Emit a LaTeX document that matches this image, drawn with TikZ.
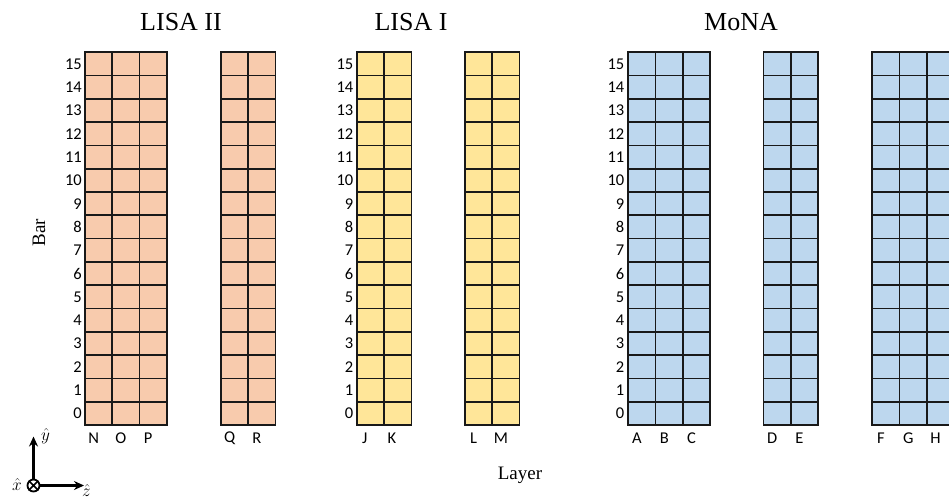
\documentclass[tikz,border=0pt]{standalone}
\usepackage{fontspec}
\setmainfont{Liberation Serif}
\newfontfamily\calib{Carlito}
\usetikzlibrary{arrows.meta}
\definecolor{lisatwo}{RGB}{248,203,173}
\definecolor{lisaone}{RGB}{255,230,153}
\definecolor{mona}{RGB}{189,215,238}
\tikzset{
  cellline/.style={line width=1.7pt, draw=black!90},
  rowlab/.style={font=\calib\fontsize{16.5}{16.5}\selectfont, anchor=east, inner sep=0pt},
  collab/.style={font=\calib\fontsize{16.5}{16.5}\selectfont, anchor=center, inner sep=0pt},
  titlelab/.style={font=\fontsize{26}{26}\selectfont, anchor=center, inner sep=0pt},
  axlab/.style={font=\fontsize{19}{19}\selectfont, anchor=center, inner sep=0pt},
  axarrow/.style={line width=3.2pt, -{Stealth[length=10pt,width=9pt]}},
}
% #1 = left x, #2 = number of columns, #3 = fill colour, #4 = name
\newcommand\detblock[4]{%
  \fill[#3] (#1,52.2) rectangle ({#1+#2*27.3},425) coordinate (#4-se);
  \coordinate (#4-nw) at (#1,52.2);
  \foreach \r in {1,...,15} {\draw[cellline] (#1,{52.2+\r*23.3}) -- ({#1+#2*27.3},{52.2+\r*23.3});}
  \foreach \c in {1,...,#2} {\draw[cellline] ({#1+\c*27.3},52.2) -- ({#1+\c*27.3},425);}
  \draw[cellline] (#4-nw) rectangle (#4-se);
}
\newcommand\rowlabels[2]{% #1 = right x, #2 = name
  \foreach \r in {0,...,15} {\node[rowlab] (#2-\r) at (#1,{425-(\r+0.5)*23.3}) {\r};}
}
\begin{document}
\begin{tikzpicture}[x=1pt,y=-1pt]
\useasboundingbox (0,0) rectangle (949,499);
\clip (0,0) rectangle (949,499);

% titles
\node[titlelab] (tlisa2) at (181,22.5) {LISA II};
\node[titlelab] (tlisa1) at (411,22.5) {LISA I};
\node[titlelab] (tmona) at (741,22.5) {MoNA};

% blocks
\detblock{85}{3}{lisatwo}{NOP}
\detblock{221}{2}{lisatwo}{QR}
\detblock{357}{2}{lisaone}{JK}
\detblock{465}{2}{lisaone}{LM}
\detblock{628.3}{3}{mona}{ABC}
\detblock{763.5}{2}{mona}{DE}
\detblock{872.3}{3}{mona}{FGH}

% row numbers
\rowlabels{82}{rowa}
\rowlabels{353.5}{rowb}
\rowlabels{624.5}{rowc}

% column letters
\foreach \l [count=\i from 0] in {N,O,P} {\node[collab] (col-\l) at ({85+(\i+0.5)*27.3-5},438) {\l};}
\foreach \l [count=\i from 0] in {Q,R} {\node[collab] (col-\l) at ({221+(\i+0.5)*27.3-5},438) {\l};}
\foreach \l [count=\i from 0] in {J,K} {\node[collab] (col-\l) at ({357+(\i+0.5)*27.3-6},438) {\l};}
\foreach \l [count=\i from 0] in {L,M} {\node[collab] (col-\l) at ({465+(\i+0.5)*27.3-5},438) {\l};}
\foreach \l [count=\i from 0] in {A,B,C} {\node[collab] (col-\l) at ({628.3+(\i+0.5)*27.3-5},438) {\l};}
\foreach \l [count=\i from 0] in {D,E} {\node[collab] (col-\l) at ({763.5+(\i+0.5)*27.3-5},438) {\l};}
\foreach \l [count=\i from 0] in {F,G,H} {\node[collab] (col-\l) at ({872.3+(\i+0.5)*27.3-5},438) {\l};}

% axis titles
\node[axlab] (layer) at (520,475) {Layer};
\node[axlab, rotate=90] (bar) at (39,232.5) {Bar};

% coordinate frame
\node[circle, draw, line width=1.8pt, minimum size=12pt, inner sep=0pt] (ox) at (33.5,485.5) {};
\draw[line width=1.5pt] (ox.45) -- (ox.225) (ox.135) -- (ox.315);
\coordinate (ytip) at (33.5,436.5);
\coordinate (ztip) at (84,485.5);
\draw[axarrow] (ox.north) -- (ytip);
\draw[axarrow] (ox.east) -- (ztip);
\node[axlab] (xhat) at (17,484.5) {$\hat{x}$};
\node[axlab] (yhat) at (45.5,436) {$\hat{y}$};
\node[axlab] (zhat) at (86.5,490) {$\hat{z}$};
\end{tikzpicture}
\end{document}
